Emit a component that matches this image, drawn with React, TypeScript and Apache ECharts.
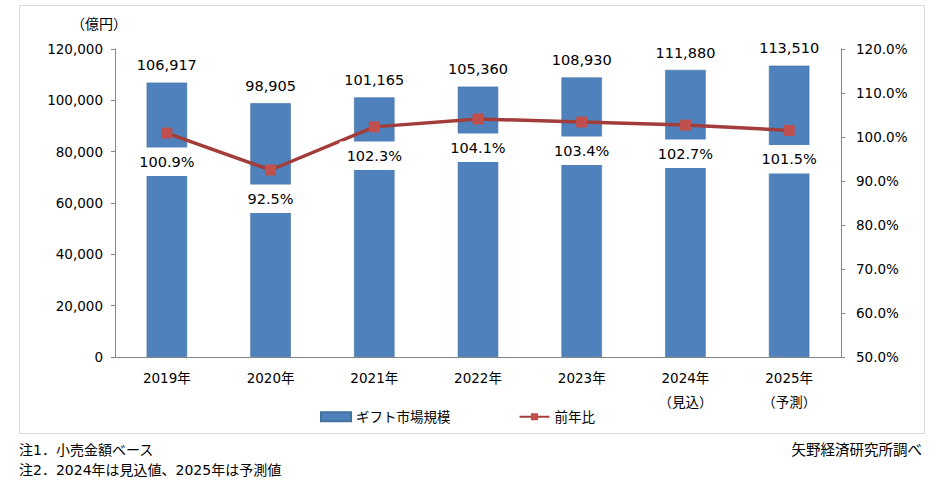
import { useEffect, useRef } from "react";
import * as echarts from "echarts";

const years = ["2019年", "2020年", "2021年", "2022年", "2023年", "2024年\n（見込）", "2025年\n（予測）"];
const marketSize = [106917, 98905, 101165, 105360, 108930, 111880, 113510];
const yoyRatio = [100.9, 92.5, 102.3, 104.1, 103.4, 102.7, 101.5];

const barName = "ギフト市場規模";
const lineName = "前年比";
const unitLabel = "（億円）";
const notes = ["注1．小売金額ベース", "注2．2024年は見込値、2025年は予測値"];
const sourceLabel = "矢野経済研究所調べ";

const FONT = "'DejaVu Sans', 'Noto Sans CJK JP', sans-serif";
const TEXT = "#000000";
const AXIS = "#868686";
const BAR = "#4F81BD";
const LINE = "#A33D3B";
const MARK = "#C0504D";

export default function App() {
  const ref = useRef<HTMLDivElement>(null);

  useEffect(() => {
    if (!ref.current) return;
    const chart = echarts.init(ref.current, undefined, { renderer: "svg" });

    chart.setOption({
      animation: false,
      backgroundColor: "#ffffff",
      textStyle: { fontFamily: FONT, color: TEXT },
      grid: { left: 115, right: 99, top: 49, bottom: 135 },
      legend: {
        top: 405,
        left: 315,
        itemGap: 68,
        itemWidth: 30,
        itemHeight: 9,
        textStyle: { fontFamily: FONT, fontSize: 13.5, color: TEXT },
        data: [
          { name: barName, icon: "rect" },
          { name: lineName },
        ],
      },
      xAxis: {
        type: "category",
        data: years,
        axisLine: { lineStyle: { color: AXIS } },
        axisTick: { length: 5, lineStyle: { color: AXIS } },
        axisLabel: { color: TEXT, fontSize: 13.5, margin: 9, lineHeight: 24 },
      },
      yAxis: [
        {
          type: "value",
          min: 0,
          max: 120000,
          interval: 20000,
          splitLine: { show: false },
          axisLine: { show: true, lineStyle: { color: AXIS } },
          axisTick: { show: true, length: 4, lineStyle: { color: AXIS } },
          axisLabel: {
            color: TEXT,
            fontSize: 13.5,
            margin: 12,
            formatter: (v: number) => v.toLocaleString("en-US"),
          },
        },
        {
          type: "value",
          min: 50,
          max: 120,
          interval: 10,
          splitLine: { show: false },
          axisLine: { show: true, lineStyle: { color: AXIS } },
          axisTick: { show: true, length: 4, lineStyle: { color: AXIS } },
          axisLabel: {
            color: TEXT,
            fontSize: 13.5,
            margin: 15,
            formatter: (v: number) => `${v.toFixed(1)}%`,
          },
        },
      ],
      series: [
        {
          name: barName,
          type: "bar",
          data: marketSize,
          barWidth: "39%",
          itemStyle: { color: BAR, borderColor: "#41719C", borderWidth: 0.6 },
          label: {
            show: true,
            position: "top",
            distance: 10,
            fontSize: 14.5,
            color: TEXT,
            formatter: (p: { value: number }) => p.value.toLocaleString("en-US"),
          },
          z: 2,
        },
        {
          name: lineName,
          type: "line",
          yAxisIndex: 1,
          data: yoyRatio,
          symbol: "rect",
          symbolSize: 10,
          lineStyle: { color: LINE, width: 3.5 },
          itemStyle: { color: MARK, borderColor: MARK },
          label: {
            show: true,
            position: "bottom",
            distance: 9,
            fontSize: 14.5,
            color: TEXT,
            backgroundColor: "#ffffff",
            padding: [7, 7],
            formatter: (p: { value: number }) => `${p.value.toFixed(1)}%`,
          },
          z: 3,
        },
      ],
      graphic: [
        {
          type: "rect",
          shape: { x: 19.5, y: 5.5, width: 905, height: 428 },
          style: { fill: "none", stroke: "#D9D9D9", lineWidth: 1 },
          silent: true,
        },
        {
          type: "text",
          left: 71,
          top: 17,
          style: { text: unitLabel, font: `14px ${FONT}`, fill: TEXT },
        },
        {
          type: "text",
          left: 19,
          top: 443,
          style: { text: notes[0], font: `14px ${FONT}`, fill: TEXT },
        },
        {
          type: "text",
          left: 19,
          top: 463,
          style: { text: notes[1], font: `14px ${FONT}`, fill: TEXT },
        },
        {
          type: "text",
          right: 18,
          top: 443,
          style: { text: sourceLabel, font: `14.5px ${FONT}`, fill: TEXT },
        },
      ],
    });

    return () => chart.dispose();
  }, []);

  return (
    <div
      ref={ref}
      style={{ position: "absolute", left: 0, top: 0, width: 940, height: 492 }}
    />
  );
}
